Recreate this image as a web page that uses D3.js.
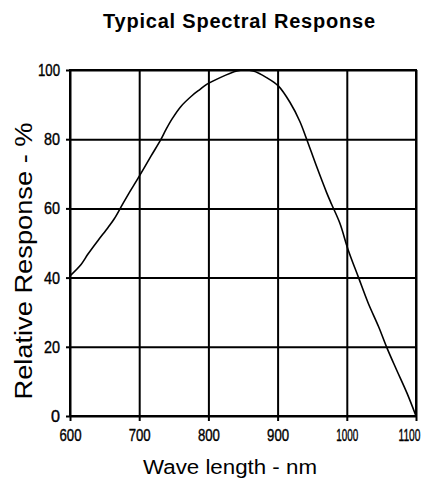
<!DOCTYPE html>
<html>
<head>
<meta charset="utf-8">
<script src="https://cdn.jsdelivr.net/npm/d3@7"></script>
<style>
  html, body { margin: 0; padding: 0; background: #fff; }
  svg { display: block; }
</style>
</head>
<body>
<svg id="chart" width="427" height="478"></svg>
<script>
const titleText = "Typical Spectral Response";
const xTitle = "Wave length - nm";
const yTitle = "Relative Response - %";
const xTicks = [600, 700, 800, 900, 1000, 1100];
const yTicks = [0, 20, 40, 60, 80, 100];
const wavelength = [600, 616, 626, 640, 655, 664, 674, 684, 698, 717, 731, 739, 748, 760, 777, 788, 798, 817, 841, 852, 865, 884, 901, 918, 932, 942, 956, 971, 978, 990, 1002, 1017, 1031, 1046, 1058, 1072, 1087, 1100];
const response   = [40.5, 43.8, 46.8, 50.6, 54.5, 57.0, 60.5, 64.0, 68.6, 75.1, 79.8, 82.9, 86.0, 89.4, 92.7, 94.4, 95.9, 97.8, 99.7, 100, 99.7, 97.8, 95.4, 90.6, 85.2, 80.0, 72.3, 64.5, 61.2, 55.7, 48.0, 40.0, 32.6, 25.8, 19.7, 13.3, 6.6, 0];

const svg = d3.select("#chart");
const L = 70, T = 70, W = 346, H = 346;
const x = d3.scaleLinear().domain([600, 1100]).range([L, L + W]);
const y = d3.scaleLinear().domain([0, 100]).range([T + H, T]);

svg.append("text")
  .attr("x", 239).attr("y", 28)
  .attr("text-anchor", "middle")
  .attr("font-family", "Liberation Sans, Arial, sans-serif")
  .attr("font-weight", "bold")
  .attr("font-size", 20)
  .attr("textLength", 272)
  .attr("lengthAdjust", "spacing")
  .text(titleText);

// grid
const gx = svg.append("g").attr("transform", `translate(0,${T + H})`)
  .call(d3.axisBottom(x).tickValues(xTicks).tickSize(-H).tickFormat(""));
const gy = svg.append("g").attr("transform", `translate(${L},0)`)
  .call(d3.axisLeft(y).tickValues(yTicks).tickSize(-W).tickFormat(""));
[gx, gy].forEach(g => {
  g.select(".domain").remove();
  g.selectAll("line").attr("stroke", "#000").attr("stroke-width", 2);
});

// outer ticks + labels
const labelFont = "Liberation Sans, Arial, sans-serif";
const ax = svg.append("g").attr("transform", `translate(0,${T + H})`)
  .call(d3.axisBottom(x).tickValues(xTicks).tickSize(5).tickPadding(8).tickFormat(d3.format("d")));
const ay = svg.append("g").attr("transform", `translate(${L},0)`)
  .call(d3.axisLeft(y).tickValues(yTicks).tickSize(4).tickPadding(6).tickFormat(d3.format("d")));
[ax, ay].forEach(g => {
  g.select(".domain").remove();
  g.selectAll("line").attr("stroke", "#000").attr("stroke-width", 2);
  g.selectAll("text").attr("fill", "#000").attr("font-family", labelFont)
    .attr("font-size", 17)
    .attr("stroke", "#000").attr("stroke-width", 0.4)
    .attr("lengthAdjust", "spacingAndGlyphs")
    .attr("textLength", d => { const n = String(d).length; return n === 1 ? 9 : n === 2 ? 16 : 22; });
});
ax.selectAll("text").filter(d => d === 1100).attr("dx", -7);

// frame
svg.append("rect").attr("x", L).attr("y", T).attr("width", W).attr("height", H)
  .attr("fill", "none").attr("stroke", "#000").attr("stroke-width", 2);

// curve
const pts = wavelength.map((d, i) => [d, response[i]]);
svg.append("path")
  .datum(pts)
  .attr("fill", "none")
  .attr("stroke", "#000")
  .attr("stroke-width", 1.6)
  .attr("d", d3.line().x(d => x(d[0])).y(d => y(d[1])).curve(d3.curveCatmullRom));

// axis titles
svg.append("text")
  .attr("x", 230).attr("y", 474)
  .attr("text-anchor", "middle")
  .attr("font-family", "Liberation Sans, Arial, sans-serif")
  .attr("font-size", 20)
  .attr("textLength", 174)
  .attr("lengthAdjust", "spacingAndGlyphs")
  .text(xTitle);

svg.append("text")
  .attr("transform", "translate(32,261) rotate(-90)")
  .attr("text-anchor", "middle")
  .attr("font-family", "Liberation Sans, Arial, sans-serif")
  .attr("font-size", 23)
  .attr("textLength", 277)
  .attr("lengthAdjust", "spacingAndGlyphs")
  .text(yTitle);
</script>
</body>
</html>
